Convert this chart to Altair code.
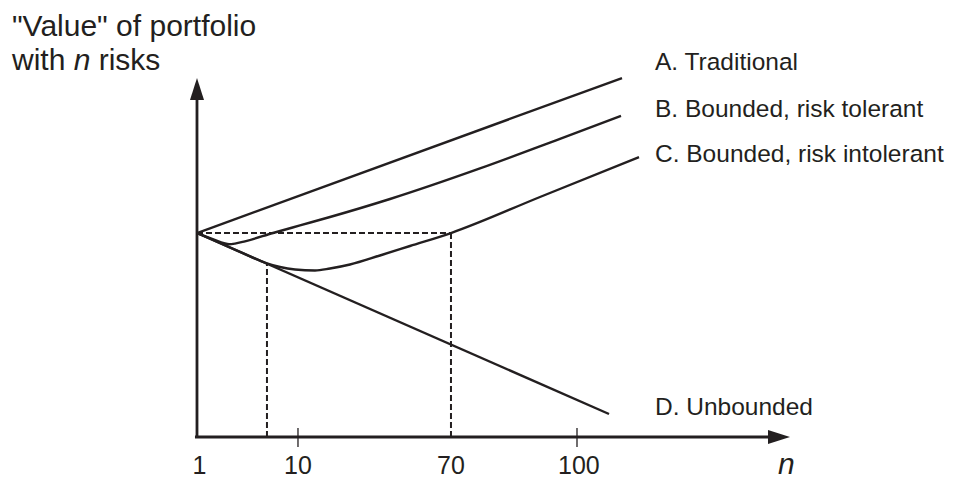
import altair as alt
import pandas as pd

INK = "#231f20"
FONT = "Liberation Sans"

# Schematic units: axes cross at (0, 0); both arrow tips sit at 100.
# Curves (position along n-axis, "value")
a_x = [0, 71.67]
a_y = [56.82, 100.0]

b_x = [0, 2.87, 4.55, 5.40, 6.41, 8.09, 12.82, 17.37, 22.43, 32.55, 47.72, 61.21, 71.50]
b_y = [56.82, 55.01, 53.98, 53.70, 53.87, 54.51, 56.82, 58.94, 61.28, 66.30, 74.82, 83.06, 89.42]

c_x = [0, 7.25, 11.80, 14.00, 16.53, 19.90, 22.43, 25.80, 30.86, 35.92, 42.83, 57.84, 74.54]
c_y = [56.82, 51.56, 48.38, 47.35, 46.66, 46.38, 46.94, 48.05, 50.56, 53.20, 56.82, 66.85, 77.99]

d_x = [0, 69.48]
d_y = [56.82, 6.41]

# Dashed guides
guide_x = [0, 42.83, 11.80, 11.80, 42.83, 42.83]
guide_y = [56.82, 56.82, 0, 48.38, 0, 56.82]
guide_id = ["h", "h", "v1", "v1", "v2", "v2"]

# Axes
axis_x = [-0.34, 96.4, 0, 0]
axis_y = [0, 0, -0.3, 93.9]
axis_id = ["x", "x", "y", "y"]

# Ticks on the n axis
tick_pos = [17.03, 64.08]
tick_lo = -2.79
tick_hi = 2.51

# Tick labels
tick_labels = ["1", "10", "70", "100"]
tick_label_pos = [0.4, 17.03, 42.83, 64.4]
tick_label_y = -10.31

# Curve labels
curve_labels = ["A. Traditional", "B. Bounded, risk tolerant",
                "C. Bounded, risk intolerant", "D. Unbounded"]
curve_label_x = [77.23, 77.23, 77.23, 77.23]
curve_label_y = [102.23, 89.14, 76.60, 6.13]

xs = alt.Scale(domain=[-31.87, 126.98], nice=False, zero=False)
ys = alt.Scale(domain=[-11.98, 119.50], nice=False, zero=False)


def X(f="x"):
    return alt.X(f"{f}:Q", scale=xs, axis=None)


def Y(f="y"):
    return alt.Y(f"{f}:Q", scale=ys, axis=None)


rows = []
for name, xx, yy in [("A", a_x, a_y), ("B", b_x, b_y), ("C", c_x, c_y), ("D", d_x, d_y)]:
    for i, (px, py) in enumerate(zip(xx, yy)):
        rows.append({"series": name, "x": px, "y": py, "o": i})
curves_df = pd.DataFrame(rows)

curves = alt.Chart(curves_df).mark_line(
    color=INK, strokeWidth=2.4, interpolate="monotone"
).encode(x=X(), y=Y(), detail="series:N", order="o:Q")

guides_df = pd.DataFrame({"x": guide_x, "y": guide_y, "g": guide_id})
guides = alt.Chart(guides_df).mark_line(
    color=INK, strokeWidth=2, strokeDash=[6, 3]
).encode(x=X(), y=Y(), detail="g:N")

axes_df = pd.DataFrame({"x": axis_x, "y": axis_y, "g": axis_id})
axes = alt.Chart(axes_df).mark_line(
    color=INK, strokeWidth=2.8
).encode(x=X(), y=Y(), detail="g:N")

ticks_df = pd.DataFrame({"x": tick_pos, "y": [tick_lo] * len(tick_pos),
                         "y2": [tick_hi] * len(tick_pos)})
ticks = alt.Chart(ticks_df).mark_rule(color=INK, strokeWidth=1.3).encode(
    x=X(), y=Y(), y2="y2:Q")

arrow_up = alt.Chart(pd.DataFrame({"x": [0], "y": [100.0]})).mark_point(
    shape="M0,0L0.7,2.2L-0.7,2.2Z", size=400, filled=True, opacity=1,
    color=INK, strokeWidth=0
).encode(x=X(), y=Y())

arrow_right = alt.Chart(pd.DataFrame({"x": [100.0], "y": [0]})).mark_point(
    shape="M0,0L-2.2,-0.7L-2.2,0.7Z", size=400, filled=True, opacity=1,
    color=INK, strokeWidth=0
).encode(x=X(), y=Y())

tl_df = pd.DataFrame({"x": tick_label_pos, "y": [tick_label_y] * 4, "t": tick_labels})
tick_text = alt.Chart(tl_df).mark_text(
    align="center", baseline="alphabetic", font=FONT, fontSize=25, color=INK
).encode(x=X(), y=Y(), text="t:N")

cl_df = pd.DataFrame({"x": curve_label_x, "y": curve_label_y, "t": curve_labels})
curve_text = alt.Chart(cl_df).mark_text(
    align="left", baseline="alphabetic", font=FONT, fontSize=24.5, color=INK
).encode(x=X(), y=Y(), text="t:N")

title_df = pd.DataFrame({"x": [-31.2, -31.2, -16.58], "y": [111.70, 102.23, 102.23],
                         "t": ['"Value" of portfolio', "with", "risks"]})
title_text = alt.Chart(title_df).mark_text(
    align="left", baseline="alphabetic", font=FONT, fontSize=30, color=INK
).encode(x=X(), y=Y(), text="t:N")

italic_df = pd.DataFrame({"x": [-20.80, 97.98], "y": [102.23, -10.31], "t": ["n", "n"]})
italic_text = alt.Chart(italic_df).mark_text(
    align="left", baseline="alphabetic", font=FONT, fontSize=30, fontStyle="italic",
    color=INK
).encode(x=X(), y=Y(), text="t:N")

chart = alt.layer(
    guides, axes, ticks, curves, arrow_up, arrow_right,
    tick_text, curve_text, title_text, italic_text
).properties(
    width=942, height=472,
    autosize=alt.AutoSizeParams(type="none"),
    padding=0,
).configure_view(stroke=None)

chart.save("out.html", embed_options={"renderer": "svg", "actions": False})
